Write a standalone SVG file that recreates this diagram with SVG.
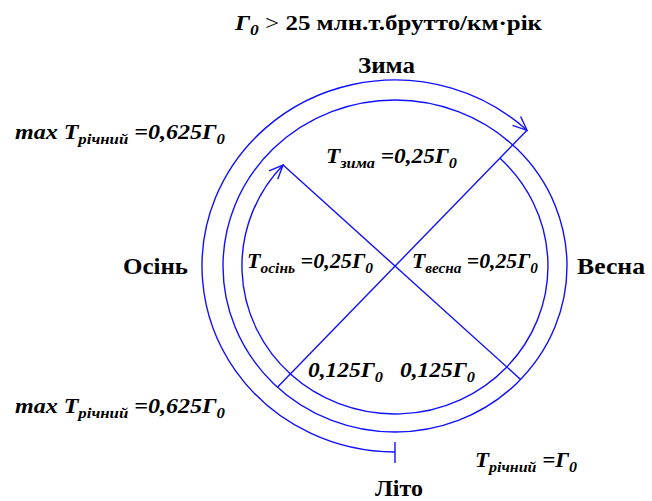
<svg xmlns="http://www.w3.org/2000/svg" width="652" height="501" viewBox="0 0 652 501">
<style>
.c{fill:none;stroke:#1010ff;stroke-width:1.4}
.t{font-family:'Liberation Serif',serif;font-size:20px;font-weight:bold;fill:#000}
.u{font-size:23px}
.i{font-style:italic}
.s{font-size:14px}
.r{font-weight:normal}
</style>
<defs>
<marker id="ah" markerUnits="userSpaceOnUse" markerWidth="20" markerHeight="20" viewBox="-16 -10 20 20" refX="0" refY="0" orient="auto">
<path d="M-14,-6 L0,0 L-14,6" fill="none" stroke="#1010ff" stroke-width="1.4"/>
</marker>
</defs>
<rect width="652" height="501" fill="#fff"/>
<g id="connectors">
<path id="outer-arc" class="c" d="M395,452 A193,186 0 1 1 527,130.3" marker-end="url(#ah)"/>
<line id="outer-tick" class="c" x1="395" y1="442" x2="395" y2="463"/>
<ellipse id="middle-circle" class="c" cx="395" cy="266" rx="172" ry="166"/>
<path id="inner-arc" class="c" d="M499.7,158.1 A153,148 0 1 1 283.1,165" marker-end="url(#ah)"/>
<line id="line1" class="c" x1="527" y1="130.3" x2="277.4" y2="387.2"/>
<line id="line2" class="c" x1="283.1" y1="165" x2="520.6" y2="379.4"/>
</g>
<g id="title"><text class="t" font-family="Liberation Serif" x="235" y="30" textLength="307" lengthAdjust="spacingAndGlyphs"><tspan class="i">Г</tspan><tspan class="i s" dy="5">0</tspan><tspan class="r" dy="-5"> &gt; </tspan>25 млн.т.брутто/км·рік</text></g>
<g id="zyma"><text class="t u" font-family="Liberation Serif" x="358" y="73" textLength="57" lengthAdjust="spacingAndGlyphs">Зима</text></g>
<g id="osin"><text class="t u" font-family="Liberation Serif" x="123" y="274" textLength="65" lengthAdjust="spacingAndGlyphs">Осінь</text></g>
<g id="vesna"><text class="t u" font-family="Liberation Serif" x="577" y="274" textLength="68" lengthAdjust="spacingAndGlyphs">Весна</text></g>
<g id="lito"><text class="t u" font-family="Liberation Serif" x="375" y="496" textLength="48" lengthAdjust="spacingAndGlyphs">Літо</text></g>
<g id="max-top"><text class="t i" font-family="Liberation Serif" x="15" y="139" textLength="210" lengthAdjust="spacingAndGlyphs">max T<tspan class="s" dy="5">річний</tspan><tspan dy="-5"> =0,625Г</tspan><tspan class="s" dy="5">0</tspan></text></g>
<g id="max-bottom"><text class="t i" font-family="Liberation Serif" x="15" y="413" textLength="210" lengthAdjust="spacingAndGlyphs">max T<tspan class="s" dy="5">річний</tspan><tspan dy="-5"> =0,625Г</tspan><tspan class="s" dy="5">0</tspan></text></g>
<g id="t-zyma"><text class="t i" font-family="Liberation Serif" x="326" y="163" textLength="131" lengthAdjust="spacingAndGlyphs">T<tspan class="s" dy="5">зима</tspan><tspan dy="-5"> =0,25Г</tspan><tspan class="s" dy="5">0</tspan></text></g>
<g id="t-osin"><text class="t i" font-family="Liberation Serif" x="247" y="268" textLength="126" lengthAdjust="spacingAndGlyphs">T<tspan class="s" dy="5">осінь</tspan><tspan dy="-5"> =0,25Г</tspan><tspan class="s" dy="5">0</tspan></text></g>
<g id="t-vesna"><text class="t i" font-family="Liberation Serif" x="412" y="268" textLength="126" lengthAdjust="spacingAndGlyphs">T<tspan class="s" dy="5">весна</tspan><tspan dy="-5"> =0,25Г</tspan><tspan class="s" dy="5">0</tspan></text></g>
<g id="q1"><text class="t i" font-family="Liberation Serif" x="308" y="377" textLength="75" lengthAdjust="spacingAndGlyphs">0,125Г<tspan class="s" dy="5">0</tspan></text></g>
<g id="q2"><text class="t i" font-family="Liberation Serif" x="400" y="377" textLength="75" lengthAdjust="spacingAndGlyphs">0,125Г<tspan class="s" dy="5">0</tspan></text></g>
<g id="t-richnyi"><text class="t i" font-family="Liberation Serif" x="475" y="467" textLength="102" lengthAdjust="spacingAndGlyphs">T<tspan class="s" dy="5">річний</tspan><tspan dy="-5"> =Г</tspan><tspan class="s" dy="5">0</tspan></text></g>
</svg>
